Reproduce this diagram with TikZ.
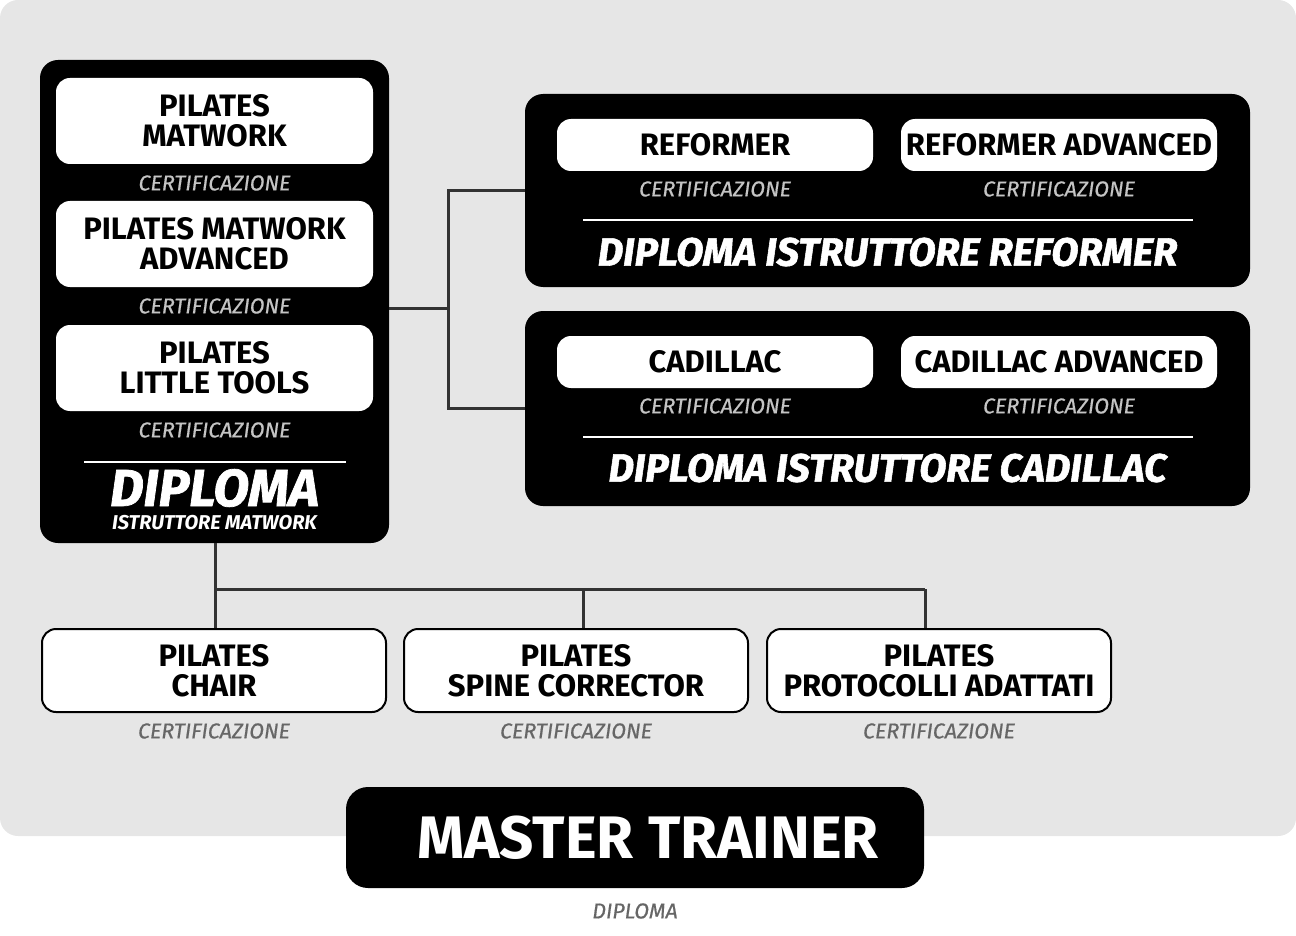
\documentclass[tikz,border=0pt]{standalone}
\usepackage{fontspec}
\setmainfont{Fira Sans}
\newfontfamily\certfont{Fira Sans}[FakeBold=0.6]
\newfontfamily\heavyfont{Fira Sans}[FakeBold=1.4]
\usetikzlibrary{positioning}

\definecolor{bggray}{HTML}{E6E6E6}
\definecolor{linegray}{HTML}{333333}
\definecolor{certlight}{HTML}{C4C4C4}
\definecolor{certdark}{HTML}{666666}

\tikzset{
	panel/.style={fill=black,rounded corners=18pt,inner sep=0pt},
	course/.style={fill=white,rounded corners=14pt,inner sep=0pt,align=center,
		font=\fontsize{31}{30}\selectfont\bfseries},
	coursebox/.style={course,draw=black,line width=2pt},
	certlabel/.style={inner sep=0pt,font=\fontsize{21.5}{21.5}\selectfont\certfont\itshape},
	diplomatitle/.style={inner sep=0pt,text=white,font=\fontsize{39.5}{40}\selectfont\heavyfont\bfseries\itshape},
	connector/.style={draw=linegray,line width=3pt},
}

\begin{document}
\begin{tikzpicture}[x=1pt,y=-1pt]
				\useasboundingbox (0,0) rectangle (1296,936);
				\fill [bggray, rounded corners=18pt] (0,0) rectangle (1296,836);

				% matwork
				\node [panel, minimum width=349pt, minimum height=483pt] (matwork) at (214.5,301.5) {};
				\node [course, minimum width=317pt, minimum height=86pt] (mat) at (214.5,121) {PILATES\\MATWORK};
				\node [course, minimum width=317pt, minimum height=86pt] (matadv) at (214.5,244) {PILATES MATWORK\\ADVANCED};
				\node [course, minimum width=317pt, minimum height=86pt] (tools) at (214.5,368) {PILATES\\LITTLE TOOLS};
				\node [certlabel, text=certlight] (certmat) at (214.5,183) {CERTIFICAZIONE};
				\node [certlabel, text=certlight] (certmatadv) at (214.5,306) {CERTIFICAZIONE};
				\node [certlabel, text=certlight] (certtools) at (214.5,430) {CERTIFICAZIONE};
				\draw [white, line width=2pt] (84,462) -- (346,462);
				\node [inner sep=0pt, text=white, font=\fontsize{52}{52}\selectfont\heavyfont\bfseries\itshape] (dipmat) at (214.5,488) {DIPLOMA};
				\node [inner sep=0pt, text=white, font=\fontsize{20}{20}\selectfont\bfseries\itshape] (dipmatsub) at (214.5,523) {ISTRUTTORE MATWORK};

				% reformer
				\node [panel, minimum width=725pt, minimum height=193pt] (reformerbox) at (887.5,190.5) {};
				\node [course, minimum width=316pt, minimum height=52pt] (ref) at (715,145) {REFORMER};
				\node [course, minimum width=316pt, minimum height=52pt] (refadv) at (1059,145) {REFORMER ADVANCED};
				\node [certlabel, text=certlight] (certref) at (715,189) {CERTIFICAZIONE};
				\node [certlabel, text=certlight] (certrefadv) at (1059,189) {CERTIFICAZIONE};
				\draw [white, line width=2pt] (583,220) -- (1193,220);
				\node [diplomatitle] (dipref) at (887.5,252) {DIPLOMA ISTRUTTORE REFORMER};

				% cadillac
				\node [panel, minimum width=725pt, minimum height=195pt] (cadillacbox) at (887.5,408.5) {};
				\node [course, minimum width=316pt, minimum height=52pt] (cad) at (715,362) {CADILLAC};
				\node [course, minimum width=316pt, minimum height=52pt] (cadadv) at (1059,362) {CADILLAC ADVANCED};
				\node [certlabel, text=certlight] (certcad) at (715,406) {CERTIFICAZIONE};
				\node [certlabel, text=certlight] (certcadadv) at (1059,406) {CERTIFICAZIONE};
				\draw [white, line width=2pt] (583,437) -- (1193,437);
				\node [diplomatitle] (dipcad) at (887.5,468) {DIPLOMA ISTRUTTORE CADILLAC};

				% bottom courses
				\node [coursebox, minimum width=344pt, minimum height=83pt] (chair) at (214,670.5) {PILATES\\CHAIR};
				\node [coursebox, minimum width=344pt, minimum height=83pt] (spine) at (576,670.5) {PILATES\\SPINE CORRECTOR};
				\node [coursebox, minimum width=344pt, minimum height=83pt] (protocolli) at (939,670.5) {PILATES\\PROTOCOLLI ADATTATI};
				\node [certlabel, text=certdark] (certchair) at (214,731) {CERTIFICAZIONE};
				\node [certlabel, text=certdark] (certspine) at (576,731) {CERTIFICAZIONE};
				\node [certlabel, text=certdark] (certprot) at (939,731) {CERTIFICAZIONE};

				% connectors
				\coordinate (split) at (448,308);
				\coordinate (branch) at (215,589);
				\coordinate (bspine) at (583,589);
				\coordinate (bprot) at (925,589);
				\draw [connector] (matwork.east |- split) -- (split);
				\draw [connector] (reformerbox.west) -| (split) |- (cadillacbox.west);
				\draw [connector] (branch |- matwork.south) -- (branch |- chair.north);
				\draw [connector] (branch) -- (bprot);
				\draw [connector] (bspine) -- (bspine |- spine.north);
				\draw [connector] (bprot) -- (bprot |- protocolli.north);

				% master
				\node [panel, rounded corners=22pt, minimum width=578pt, minimum height=101pt] (master) at (635,837.5) {};
				\node [inner sep=0pt, text=white, font=\fontsize{60}{60}\selectfont\bfseries] (mastertext) at ([xshift=13pt]master.center) {MASTER TRAINER};
				\node [certlabel, text=certdark] (dipmaster) at (635,911) {DIPLOMA};

			\end{tikzpicture}
\end{document}
